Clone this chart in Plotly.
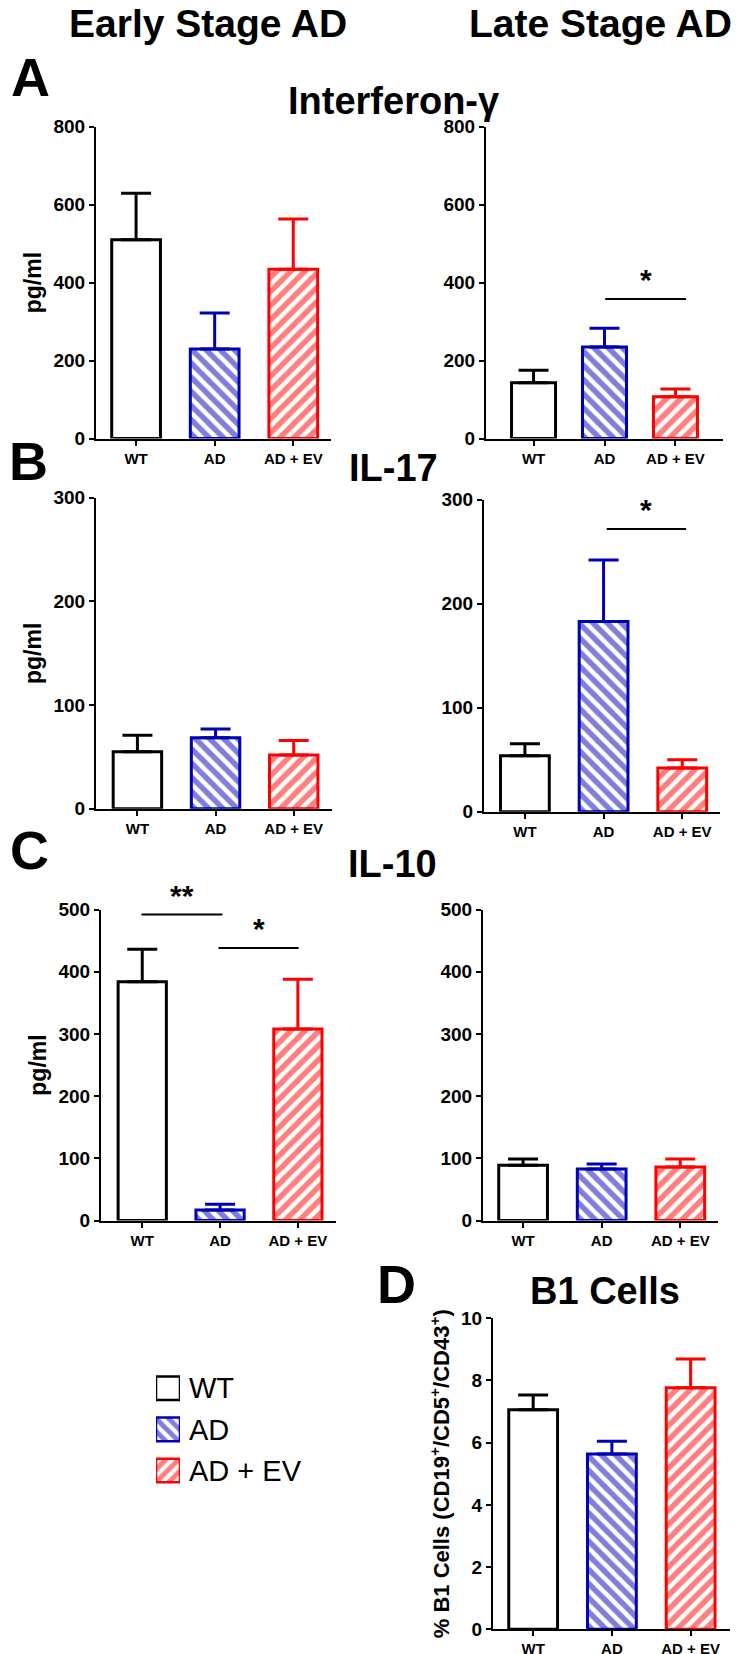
import plotly.graph_objects as go

W, H = 740, 1654
FONT = "Liberation Sans, Arial, sans-serif"

categories = ["WT", "AD", "AD + EV"]
colors = ["#000000", "#0000b4", "#ff0000"]
patterns = ["", "\\", "/"]

# Interferon-gamma (pg/ml), mean and upper SEM
ifn_early = [510, 230, 434]
ifn_early_err = [119, 92, 129]
ifn_late = [143, 235, 107]
ifn_late_err = [32, 48, 20]

# IL-17 (pg/ml)
il17_early = [55, 68.6, 52]
il17_early_err = [16, 8.4, 14]
il17_late = [54, 183, 42]
il17_late_err = [11.4, 59, 8]

# IL-10 (pg/ml)
il10_early = [384, 17, 308]
il10_early_err = [52, 9, 80]
il10_late = [89, 83, 86]
il10_late_err = [10, 8, 13]

# B1 cells (%)
b1_cells = [7.06, 5.64, 7.77]
b1_cells_err = [0.47, 0.41, 0.92]

# significance bars: (axis id, from, to, y, label)
sig_bars = [
    (2, 1.01, 2.15, 358, "*"),
    (4, 1.04, 2.05, 272, "*"),
    (5, -0.01, 1.03, 492, "**"),
    (5, 0.98, 2.01, 438, "*"),
]


def dom_x(a, b):
    return [a / W, b / W]


def dom_y(top, bottom):
    return [1 - bottom / H, 1 - top / H]


# panel layout: id, values, errors, x px, y px(top,bottom), x range, y range, dtick, ytitle
panels = [
    (1, ifn_early, ifn_early_err, (88, 323), (110, 426), [-0.51, 2.48], [0, 800], 200, "pg/ml"),
    (2, ifn_late, ifn_late_err, (478, 715), (110, 426), [-0.67, 2.67], [0, 800], 200, ""),
    (3, il17_early, il17_early_err, (88, 324), (486, 801), [-0.53, 2.49], [0, 300], 100, "pg/ml"),
    (4, il17_late, il17_late_err, (476, 712), (488, 804), [-0.52, 2.48], [0, 300], 100, ""),
    (5, il10_early, il10_early_err, (93, 328), (903, 1218), [-0.53, 2.49], [0, 500], 100, "pg/ml"),
    (6, il10_late, il10_late_err, (475, 710), (903, 1218), [-0.51, 2.48], [0, 500], 100, ""),
    (7, b1_cells, b1_cells_err, (485, 722), (1317, 1632), [-0.51, 2.5], [0, 10], 2,
     "% B1 Cells (CD19<sup>+</sup>/CD5<sup>+</sup>/CD43<sup>+</sup>)"),
]

fig = go.Figure()
layout_axes = {}

for pid, vals, errs, xpx, ypx, xr, yr, dt, ytitle in panels:
    sfx = "" if pid == 1 else str(pid)
    for i, cat in enumerate(categories):
        fig.add_trace(go.Bar(
            x=[i], y=[vals[i]], width=0.62,
            xaxis="x" + sfx, yaxis="y" + sfx,
            marker=dict(
                color="white",
                line=dict(color=colors[i], width=3),
                pattern=dict(shape=patterns[i], fgcolor=colors[i], bgcolor="white",
                             size=10, solidity=0.55),
            ),
            error_y=dict(type="data", symmetric=False, array=[errs[i]], arrayminus=[0],
                         color=colors[i], thickness=3, width=15),
            showlegend=False, hoverinfo="skip",
        ))
    layout_axes["xaxis" + sfx] = dict(
        domain=dom_x(*xpx), anchor="y" + sfx, range=xr,
        tickvals=[0, 1, 2], ticktext=categories,
        showline=True, linecolor="black", linewidth=2,
        ticks="outside", ticklen=5, tickwidth=2, tickcolor="black",
        showgrid=False, zeroline=False,
        tickfont=dict(family=FONT, size=15, color="black", weight="bold"),
    )
    yax = dict(
        domain=dom_y(*ypx), anchor="x" + sfx, range=yr, dtick=dt, tick0=0,
        showline=True, linecolor="black", linewidth=2,
        ticks="outside", ticklen=5, tickwidth=2, tickcolor="black",
        showgrid=False, zeroline=False,
        tickfont=dict(family=FONT, size=19, color="black", weight="bold"),
    )
    if ytitle:
        size = 22 if pid == 7 else 23
        yax["title"] = dict(text=ytitle, standoff=5,
                            font=dict(family=FONT, size=size, color="black", weight="bold"))
    layout_axes["yaxis" + sfx] = yax

# legend drawn as a small horizontal bar axis
for i, cat in enumerate(categories):
    fig.add_trace(go.Bar(
        x=[1], y=[cat], orientation="h", width=0.575,
        xaxis="x8", yaxis="y8",
        marker=dict(
            color="white",
            line=dict(color=colors[i], width=2.5),
            pattern=dict(shape=patterns[i], fgcolor=colors[i], bgcolor="white",
                         size=9, solidity=0.55),
        ),
        showlegend=False, hoverinfo="skip",
    ))
layout_axes["xaxis8"] = dict(domain=dom_x(148, 172), anchor="y8", range=[0, 1],
                             visible=False, fixedrange=True)
layout_axes["yaxis8"] = dict(domain=dom_y(1367, 1492), anchor="x8", side="right",
                             autorange="reversed", categoryorder="array",
                             categoryarray=categories, showline=False, showgrid=False,
                             zeroline=False, ticks="", ticklabelstandoff=8,
                             tickfont=dict(family=FONT, size=29, color="black"))

shapes = []
annotations = []
for pid, x0, x1, yv, label in sig_bars:
    sfx = "" if pid == 1 else str(pid)
    shapes.append(dict(type="line", xref="x" + sfx, yref="y" + sfx,
                       x0=x0, x1=x1, y0=yv, y1=yv,
                       line=dict(color="black", width=2)))
    annotations.append(dict(text=label, xref="x" + sfx, yref="y" + sfx,
                            x=(x0 + x1) / 2, y=yv, yanchor="bottom", yshift=1,
                            showarrow=False,
                            font=dict(family=FONT, size=30, color="black", weight="bold")))

# column headers, anchored to the top edge
for text, xp in [("Early Stage AD", 200), ("Late Stage AD", 592)]:
    annotations.append(dict(text=text, xref="paper", yref="paper",
                            x=xp / W, y=1, xanchor="center", yanchor="top", yshift=18,
                            showarrow=False,
                            font=dict(family=FONT, size=39, color="black", weight="bold")))

# cytokine titles and panel letters: (text, x px, y px of text box middle, size)
labels = [
    ("Interferon-γ", 385, 84, 38),
    ("IL-17", 385, 456, 38),
    ("IL-10", 384, 857, 38),
    ("B1 Cells", 597, 1289, 38),
    ("A", 22, 60, 54),
    ("B", 20, 449, 54),
    ("C", 21, 843, 54),
    ("D", 388, 1282, 54),
]
for text, xp, yp, size in labels:
    annotations.append(dict(text=text, xref="paper", yref="paper",
                            x=xp / W, y=1 - yp / H, xanchor="center", yanchor="middle",
                            showarrow=False,
                            font=dict(family=FONT, size=size, color="black", weight="bold")))

fig.update_layout(
    width=W, height=H,
    margin=dict(l=0, r=0, t=0, b=0),
    plot_bgcolor="white", paper_bgcolor="white",
    barmode="overlay",
    shapes=shapes, annotations=annotations,
    **layout_axes,
)

fig.write_html("out.html")
